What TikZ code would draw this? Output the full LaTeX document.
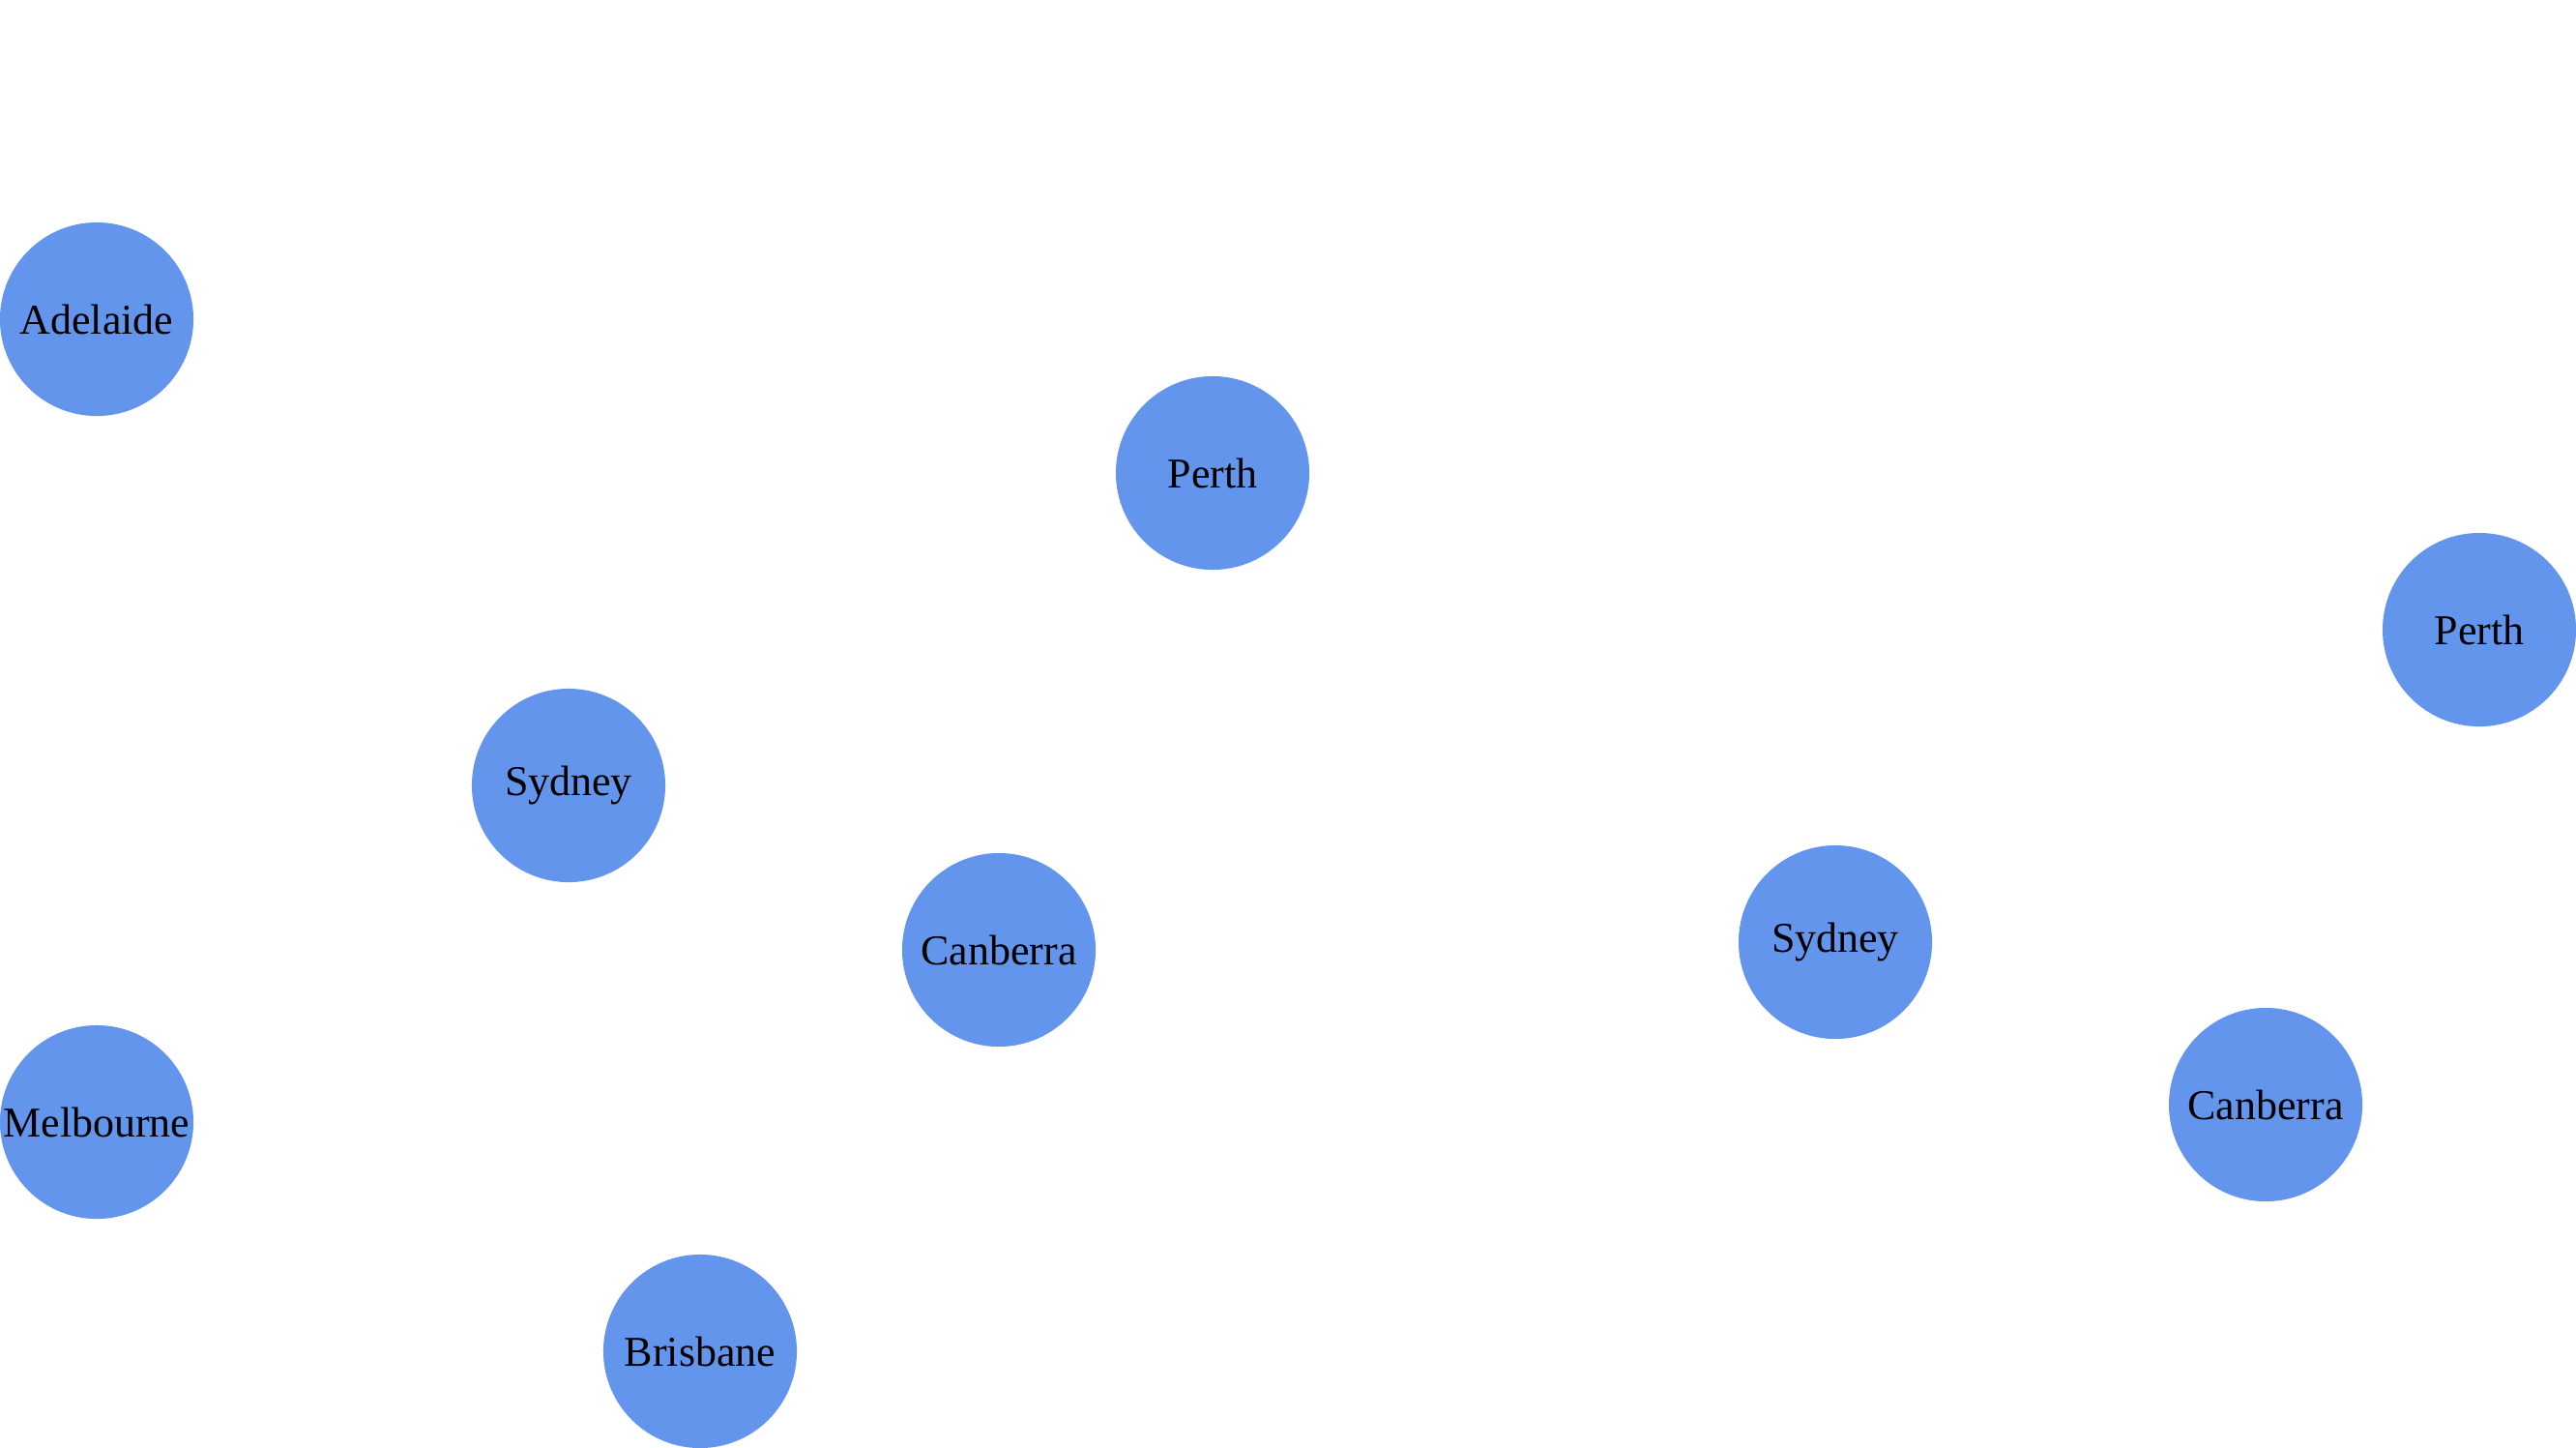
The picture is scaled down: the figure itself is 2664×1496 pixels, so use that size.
\documentclass[tikz,border=0pt]{standalone}
\usepackage{fontspec}
\setmainfont{Liberation Serif}
\definecolor{nodeblue}{HTML}{6495ED}
\begin{document}
\begin{tikzpicture}[x=0.01cm,y=-0.01cm,
  city/.style={circle,fill=nodeblue,draw=none,minimum size=2cm,inner sep=0pt,font=\fontsize{12.5}{14}\selectfont,text=black}]
\useasboundingbox (0,0) rectangle (2664,1496);
\node[city] (adelaide) at (100,330) {Adelaide};
\node[city] (perth1) at (1254,489) {Perth};
\node[city] (sydney1) at (588,812) {Sydney};
\node[city] (canberra1) at (1033,982) {Canberra};
\node[city] (melbourne) at (100,1160) {Melbourne};
\node[city] (brisbane) at (724,1397) {Brisbane};
\node[city] (sydney2) at (1898,974) {Sydney};
\node[city] (perth2) at (2564,651) {Perth};
\node[city] (canberra2) at (2343,1142) {Canberra};
\end{tikzpicture}
\end{document}
